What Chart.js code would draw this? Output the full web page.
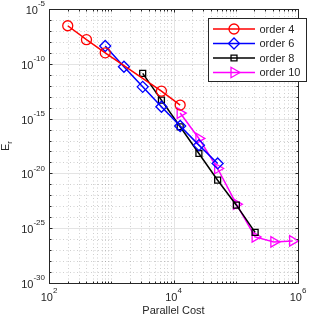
<!DOCTYPE html>
<html>
<head>
<meta charset="utf-8">
<script src="https://cdn.jsdelivr.net/npm/chart.js@4.4.0/dist/chart.umd.min.js"></script>
<style>
  html, body { margin: 0; padding: 0; background: #fff; }
  #wrap { width: 316px; height: 316px; }
</style>
</head>
<body>
<div id="wrap"><canvas id="errChart"></canvas></div>
<script>
// parallel cost of each run
var cost4  = [200, 400, 800, 6400, 12800];
var cost6  = [800, 1600, 3200, 6400, 12800, 25600, 51200];
var cost8  = [3200, 6400, 12800, 25600, 51200, 102400, 204800];
var cost10 = [12800, 25600, 51200, 102400, 204800, 409600, 819200];

// error E_r
var err4  = [2.95e-7, 1.6e-8, 1.0e-9, 3.2e-13, 1.7e-14];
var err6  = [4.2e-9, 5.4e-11, 7.9e-13, 1.2e-14, 2.1e-16, 3.8e-18, 8.1e-20];
var err8  = [1.35e-11, 4.9e-14, 1.8e-16, 6.6e-19, 2.4e-21, 1.26e-23, 4.1e-26];
var err10 = [3.2e-15, 1.55e-17, 2.8e-20, 1.55e-23, 1.6e-26, 5.6e-27, 6.9e-27];

var seriesNames = ['order 4', 'order 6', 'order 8', 'order 10'];

// tick labels (exponents of ten)
var xTickExp = [2, 4, 6];
var yTickExp = [-30, -25, -20, -15, -10, -5];

var txt = '#262626';
var fontName = '"Liberation Sans", Arial, sans-serif';

function pts(xs, ys) {
  return xs.map(function (x, i) { return {x: x, y: ys[i]}; });
}

function series(name, xs, ys, color, style, r, rot) {
  return {
    label: name,
    data: pts(xs, ys),
    showLine: true,
    borderColor: color,
    borderWidth: 1.5,
    pointStyle: style,
    pointRadius: r,
    pointHoverRadius: r,
    pointRotation: rot || 0,
    pointBorderColor: color,
    pointBackgroundColor: 'rgba(0,0,0,0)',
    pointBorderWidth: 1.3,
    clip: false
  };
}

function drawPow(ctx, base, exp, x, y, align, big, small) {
  // "10" with a raised exponent; y is the tick position
  ctx.font = big + 'px ' + fontName;
  var wb = ctx.measureText(base).width;
  ctx.font = small + 'px ' + fontName;
  var we = ctx.measureText(exp).width;
  var w = wb + we;
  var x0 = align === 'right' ? x - w : x - w / 2;
  ctx.textAlign = 'left';
  ctx.textBaseline = 'middle';
  ctx.font = big + 'px ' + fontName;
  ctx.fillText(base, x0, y + 2);
  ctx.font = small + 'px ' + fontName;
  ctx.fillText(exp, x0 + wb, y - 5);
}

var matlabAxes = {
  id: 'matlabAxes',
  beforeDatasetsDraw: function (chart) {
    var ctx = chart.ctx, a = chart.chartArea;
    var sx = chart.scales.x, sy = chart.scales.y;
    ctx.save();
    ctx.lineWidth = 1;

    // minor grid, dotted
    ctx.strokeStyle = 'rgba(38,38,38,0.22)';
    ctx.setLineDash([1, 2.5]);
    ctx.beginPath();
    for (var k = 2; k < 6; k++) {
      for (var m = 1; m < 10; m++) {
        if (m === 1 && k % 2 === 0) continue;
        var px = Math.round(sx.getPixelForValue(m * Math.pow(10, k))) + 0.5;
        ctx.moveTo(px, a.top); ctx.lineTo(px, a.bottom);
      }
    }
    for (var e = -29; e < -5; e++) {
      if (e % 5 === 0) continue;
      var py = Math.round(sy.getPixelForValue(Math.pow(10, e))) + 0.5;
      ctx.moveTo(a.left, py); ctx.lineTo(a.right, py);
    }
    ctx.stroke();

    // major grid, solid
    ctx.setLineDash([]);
    ctx.strokeStyle = '#e4e4e4';
    ctx.beginPath();
    xTickExp.forEach(function (e) {
      var px = Math.round(sx.getPixelForValue(Math.pow(10, e))) + 0.5;
      ctx.moveTo(px, a.top); ctx.lineTo(px, a.bottom);
    });
    yTickExp.forEach(function (e) {
      var py = Math.round(sy.getPixelForValue(Math.pow(10, e))) + 0.5;
      ctx.moveTo(a.left, py); ctx.lineTo(a.right, py);
    });
    ctx.stroke();
    ctx.restore();
  },
  afterDatasetsDraw: function (chart) {
    var ctx = chart.ctx, a = chart.chartArea;
    var sx = chart.scales.x, sy = chart.scales.y;
    var L = Math.round(a.left) + 0.5, R = Math.round(a.right) + 0.5;
    var T = Math.round(a.top) + 0.5, B = Math.round(a.bottom) + 0.5;
    ctx.save();
    ctx.strokeStyle = txt;
    ctx.lineWidth = 1;

    // ticks, pointing in, on all four sides
    ctx.beginPath();
    for (var k = 2; k <= 6; k++) {
      for (var m = 1; m < 10; m++) {
        if (k === 6 && m > 1) break;
        var major = (m === 1 && k % 2 === 0);
        var len = major ? 3 : 2;
        var px = Math.round(sx.getPixelForValue(m * Math.pow(10, k))) + 0.5;
        ctx.moveTo(px, B); ctx.lineTo(px, B - len);
        ctx.moveTo(px, T); ctx.lineTo(px, T + len);
      }
    }
    for (var e = -30; e <= -5; e++) {
      var lenY = (e % 5 === 0) ? 3 : 2;
      var py = Math.round(sy.getPixelForValue(Math.pow(10, e))) + 0.5;
      ctx.moveTo(L, py); ctx.lineTo(L + lenY, py);
      ctx.moveTo(R, py); ctx.lineTo(R - lenY, py);
    }
    ctx.stroke();

    // box
    ctx.strokeRect(L, T, R - L, B - T);

    // tick labels
    ctx.fillStyle = txt;
    yTickExp.forEach(function (e) {
      drawPow(ctx, '10', String(e), a.left - 4, sy.getPixelForValue(Math.pow(10, e)), 'right', 11, 8);
    });
    xTickExp.forEach(function (e) {
      drawPow(ctx, '10', String(e), sx.getPixelForValue(Math.pow(10, e)), a.bottom + 13, 'center', 11, 8);
    });

    // axis titles
    ctx.font = '11px ' + fontName;
    ctx.textAlign = 'center';
    ctx.textBaseline = 'middle';
    ctx.fillText('Parallel Cost', (a.left + a.right) / 2, 310.5);

    ctx.save();
    ctx.translate(7, (a.top + a.bottom) / 2);
    ctx.rotate(-Math.PI / 2);
    ctx.font = '11px ' + fontName;
    var wE = ctx.measureText('E').width;
    ctx.font = '8px ' + fontName;
    var wr = ctx.measureText('r').width;
    var x0 = -(wE + wr) / 2;
    ctx.textAlign = 'left';
    ctx.font = '11px ' + fontName;
    ctx.fillText('E', x0, -1);
    ctx.font = '8px ' + fontName;
    ctx.fillText('r', x0 + wE, 3);
    ctx.restore();

    // legend box
    var bx = 208.5, by = 18.5, bw = 98, bh = 63;
    ctx.fillStyle = '#fff';
    ctx.fillRect(bx, by, bw, bh);
    ctx.strokeStyle = txt;
    ctx.lineWidth = 1;
    ctx.strokeRect(bx, by, bw, bh);
    var rows = [29, 43.5, 58, 72.5];
    chart.data.datasets.forEach(function (ds, i) {
      var y = rows[i];
      ctx.strokeStyle = ds.borderColor;
      ctx.lineWidth = ds.borderWidth;
      ctx.beginPath();
      ctx.moveTo(213, y); ctx.lineTo(255, y);
      ctx.stroke();
      ctx.lineWidth = ds.pointBorderWidth;
      ctx.fillStyle = 'rgba(0,0,0,0)';
      Chart.helpers.drawPoint(ctx, {
        pointStyle: ds.pointStyle,
        radius: ds.pointRadius,
        rotation: ds.pointRotation,
        borderWidth: ds.pointBorderWidth
      }, 234, y);
      ctx.fillStyle = txt;
      ctx.font = '11px ' + fontName;
      ctx.textAlign = 'left';
      ctx.textBaseline = 'middle';
      ctx.fillText(seriesNames[i], 259.5, y + 0.5);
    });
    ctx.restore();
  }
};

var chartData = {
  datasets: [
    series(seriesNames[0], cost4, err4, '#ff0000', 'circle', 5),
    series(seriesNames[1], cost6, err6, '#0000ff', 'rectRot', 5.5),
    series(seriesNames[2], cost8, err8, '#000000', 'rect', 4.2),
    series(seriesNames[3], cost10, err10, '#ff00ff', 'triangle', 6, 90)
  ]
};

function noSize(scale) {
  if (scale.isHorizontal()) scale.height = 0; else scale.width = 0;
}

var errChart = document.getElementById('errChart');
if (errChart) {
  new Chart(errChart, {
    type: 'scatter',
    data: chartData,
    options: {
      responsive: true,
      maintainAspectRatio: false,
      animation: false,
      layout: {padding: {left: 49, top: 9, right: 18, bottom: 33}},
      plugins: {legend: {display: false}, tooltip: {enabled: false}},
      scales: {
        x: {
          type: 'logarithmic', min: 1e2, max: 1e6,
          grid: {display: false, drawTicks: false}, border: {display: false},
          ticks: {display: false}, afterFit: noSize
        },
        y: {
          type: 'logarithmic', min: 1e-30, max: 1e-5,
          grid: {display: false, drawTicks: false}, border: {display: false},
          ticks: {display: false}, afterFit: noSize
        }
      }
    },
    plugins: [matlabAxes]
  });
}
</script>
</body>
</html>
